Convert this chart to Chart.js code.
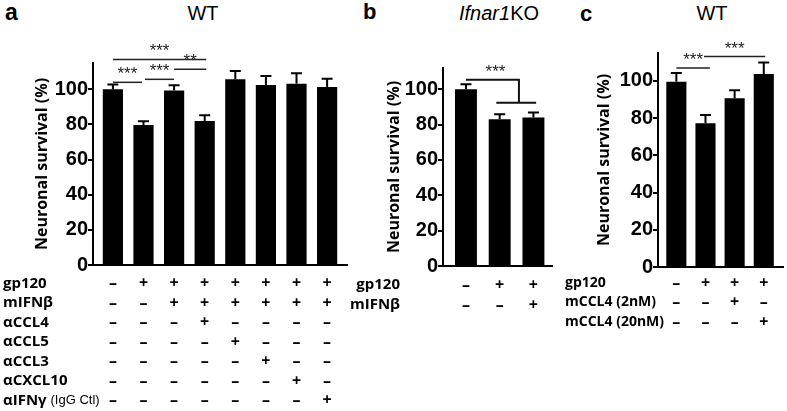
<!DOCTYPE html>
<html>
<head>
<meta charset="utf-8">
<script src="https://cdn.jsdelivr.net/npm/chart.js@4.4.1/dist/chart.umd.min.js"></script>
<style>
  body { margin: 0; background: #fff; width: 787px; height: 411px; overflow: hidden; position: relative;
         font-family: "Liberation Sans", Arial, sans-serif; }
  canvas { position: absolute; top: 0; }
  .lbl { position: absolute; line-height: 1; white-space: nowrap; color: #000; }
  .letter { font-size: 22px; font-weight: bold; }
  .title { font-size: 20px; text-align: center; width: 120px; }
</style>
</head>
<body>
<div class="lbl letter" style="left:5px;top:1px;font-size:23px">a</div>
<div class="lbl title" style="left:143px;top:3px">WT</div>
<div class="lbl letter" style="left:363px;top:1px">b</div>
<div class="lbl title" style="left:439px;top:3px"><i>Ifnar1</i>KO</div>
<div class="lbl letter" style="left:580px;top:3px">c</div>
<div class="lbl title" style="left:652px;top:3px">WT</div>

<canvas id="chart_a" width="350" height="411" style="left:0px"></canvas>
<canvas id="chart_b" width="205" height="411" style="left:350px"></canvas>
<canvas id="chart_c" width="232" height="411" style="left:555px"></canvas>

<script>
// ---- panel a : WT ----
const a_values = [100, 79.7, 99.4, 82, 105.7, 102.5, 103.2, 101.3];
const a_errors = [2.7, 2.2, 2.9, 3.2, 4.7, 5.1, 5.9, 4.8];
const a_rows = ["gp120", "mIFNβ", "αCCL4", "αCCL5", "αCCL3", "αCXCL10", "αIFNγ"];
const a_rowNotes = ["", "", "", "", "", "", "(IgG Ctl)"];
const a_signs = ["-+++++++", "--++++++", "---+----", "----+---", "-----+--", "------+-", "-------+"];
const a_sigFrom = [0, 0, 1.05, 2];
const a_sigTo = [3.05, 0.95, 2, 3.05];
const a_sigAt = [117, 104, 105.7, 111.5];
const a_sigText = ["***", "***", "***", "**"];

// ---- panel b : Ifnar1KO ----
const b_values = [100, 83, 84];
const b_errors = [2.8, 2.8, 2.8];
const b_rows = ["gp120", "mIFNβ"];
const b_rowNotes = ["", ""];
const b_signs = ["-++", "--+"];
// bracket: control bar against the group of bars 2-3
const b_bracketFrom = 0, b_bracketJoin = 1.57, b_groupFrom = 0.9, b_groupTo = 2.08;
const b_bracketAt = 105.3, b_groupAt = 92.3;
const b_bracketText = "***";

// ---- panel c : WT ----
const c_values = [99.6, 77.2, 90.7, 103.7];
const c_errors = [4.6, 4.5, 4.3, 6.2];
const c_rows = ["gp120", "mCCL4 (2nM)", "mCCL4 (20nM)"];
const c_rowNotes = ["", "", ""];
const c_signs = ["-+++", "--+-", "---+"];
const c_sigFrom = [0, 0.95];
const c_sigTo = [1.15, 3.05];
const c_sigAt = [107, 113.1];
const c_sigText = ["***", "***"];

const tickFont = { family: "'Liberation Sans', Arial, sans-serif", size: 20, weight: "bold" };
const labelFont = "'Open Sans', 'Liberation Sans', sans-serif";

function drawStars(ctx, text, x, y) {
  ctx.save();
  ctx.fillStyle = "#222";
  ctx.font = "17px 'Liberation Sans', Arial, sans-serif";
  ctx.textAlign = "center";
  ctx.textBaseline = "alphabetic";
  ctx.fillText(text, x, y + 3);
  ctx.restore();
}

function hLine(ctx, x1, x2, y) {
  ctx.beginPath();
  ctx.moveTo(x1, y);
  ctx.lineTo(x2, y);
  ctx.stroke();
}

// error bars, significance lines and the +/- table under the axis
const extras = {
  id: "extras",
  afterDraw(chart, args, p) {
    const ctx = chart.ctx;
    const xs = chart.scales.x, ys = chart.scales.y;
    ctx.save();

    // error bars (upper half only)
    ctx.strokeStyle = "#000";
    ctx.lineWidth = 2;
    p.values.forEach((v, i) => {
      const x = xs.getPixelForValue(i);
      const y0 = ys.getPixelForValue(v);
      const y1 = ys.getPixelForValue(v + p.errors[i]);
      ctx.beginPath();
      ctx.moveTo(x, y0);
      ctx.lineTo(x, y1);
      ctx.moveTo(x - 5.5, y1);
      ctx.lineTo(x + 5.5, y1);
      ctx.stroke();
    });

    // significance lines
    ctx.strokeStyle = "#222";
    ctx.lineWidth = 1.5;
    (p.sigFrom || []).forEach((f, k) => {
      const x1 = xs.getPixelForValue(f), x2 = xs.getPixelForValue(p.sigTo[k]);
      const y = ys.getPixelForValue(p.sigAt[k]);
      hLine(ctx, x1, x2, y);
      drawStars(ctx, p.sigText[k], (x1 + x2) / 2, y - 6);
    });

    if (p.bracket) {
      const b = p.bracket;
      ctx.strokeStyle = "#111";
      ctx.lineWidth = 2;
      const yTop = ys.getPixelForValue(b.at), yGrp = ys.getPixelForValue(b.groupAt);
      const xl = xs.getPixelForValue(b.from), xj = xs.getPixelForValue(b.join);
      ctx.beginPath();
      ctx.moveTo(xl, yTop);
      ctx.lineTo(xj, yTop);
      ctx.lineTo(xj, yGrp);
      ctx.stroke();
      hLine(ctx, xs.getPixelForValue(b.groupFrom), xs.getPixelForValue(b.groupTo), yGrp);
      drawStars(ctx, b.text, (xl + xj) / 2 + 3, yTop - 6);
    }

    // treatment table
    ctx.fillStyle = "#000";
    ctx.textBaseline = "middle";
    const rowFont = "bold " + p.rowSize + "px " + labelFont;
    p.rows.forEach((name, r) => {
      const y = p.rowY0 + r * p.rowGap;
      ctx.font = rowFont;
      ctx.textAlign = p.rowAlign;
      ctx.fillText(name, p.rowX, y);
      if (p.rowNotes[r]) {
        const w = ctx.measureText(name + " ").width;
        ctx.font = "13px 'Liberation Sans', Arial, sans-serif";
        ctx.textAlign = "left";
        ctx.fillText(p.rowNotes[r], p.rowX + w, y);
      }
      ctx.font = "bold 16px " + labelFont;
      ctx.textAlign = "center";
      p.signs[r].split("").forEach((s, i) => {
        ctx.fillText(s === "+" ? "+" : "–", xs.getPixelForValue(i), y);
      });
    });
    ctx.restore();
  }
};

function makePanel(canvasId, p) {
  const points = p.values.map((v, i) => ({ x: i, y: v }));
  return new Chart(document.getElementById(canvasId), {
    type: "bar",
    data: {
      datasets: [{
        data: points,
        backgroundColor: "#000",
        borderWidth: 0,
        barPercentage: p.barPct,
        categoryPercentage: 1
      }]
    },
    options: {
      responsive: false,
      devicePixelRatio: 1,
      animation: false,
      layout: { padding: p.padding },
      plugins: {
        legend: { display: false },
        tooltip: { enabled: false },
        extras: p
      },
      scales: {
        x: {
          type: "linear",
          min: p.xMin,
          max: p.xMax,
          offset: false,
          ticks: { display: false },
          grid: { display: false, drawTicks: false },
          border: { display: true, color: "#000", width: 2 }
        },
        y: {
          min: 0,
          max: p.yMax,
          ticks: { stepSize: 20, includeBounds: false, color: "#000", padding: 0, font: tickFont },
          grid: { drawOnChartArea: false, tickLength: 5, color: "#000", lineWidth: 2 },
          border: { color: "#000", width: 2 },
          title: {
            display: true,
            text: "Neuronal survival (%)",
            color: "#000",
            font: { family: labelFont, size: 16, weight: "bold" },
            padding: { top: p.titlePad, bottom: 0 }
          },
          afterFit: (s) => { s.width = p.axisWidth; }
        }
      }
    },
    plugins: [extras]
  });
}

makePanel("chart_a", {
  values: a_values, errors: a_errors,
  rows: a_rows, rowNotes: a_rowNotes, signs: a_signs,
  sigFrom: a_sigFrom, sigTo: a_sigTo, sigAt: a_sigAt, sigText: a_sigText,
  xMin: -0.65, xMax: 7.65, yMax: 115, barPct: 0.66,
  padding: { top: 63, bottom: 146, left: 0, right: 3 },
  axisWidth: 93, titlePad: 33,
  rowX: 3, rowAlign: "left", rowY0: 283.5, rowGap: 19.5, rowSize: 15
});

makePanel("chart_b", {
  values: b_values, errors: b_errors,
  rows: b_rows, rowNotes: b_rowNotes, signs: b_signs,
  bracket: { from: b_bracketFrom, join: b_bracketJoin, groupFrom: b_groupFrom, groupTo: b_groupTo,
             at: b_bracketAt, groupAt: b_groupAt, text: b_bracketText },
  xMin: -0.68, xMax: 2.55, yMax: 112, barPct: 0.65,
  padding: { top: 68, bottom: 145, left: 0, right: 3 },
  axisWidth: 93, titlePad: 35,
  rowX: 50, rowAlign: "right", rowY0: 285, rowGap: 20, rowSize: 15
});

makePanel("chart_c", {
  values: c_values, errors: c_errors,
  rows: c_rows, rowNotes: c_rowNotes, signs: c_signs,
  sigFrom: c_sigFrom, sigTo: c_sigTo, sigAt: c_sigAt, sigText: c_sigText,
  xMin: -0.63, xMax: 3.66, yMax: 115, barPct: 0.69,
  padding: { top: 53, bottom: 144, left: 0, right: 4 },
  axisWidth: 103, titlePad: 40,
  rowX: 10, rowAlign: "left", rowY0: 283, rowGap: 19.5, rowSize: 14
});
</script>
</body>
</html>
